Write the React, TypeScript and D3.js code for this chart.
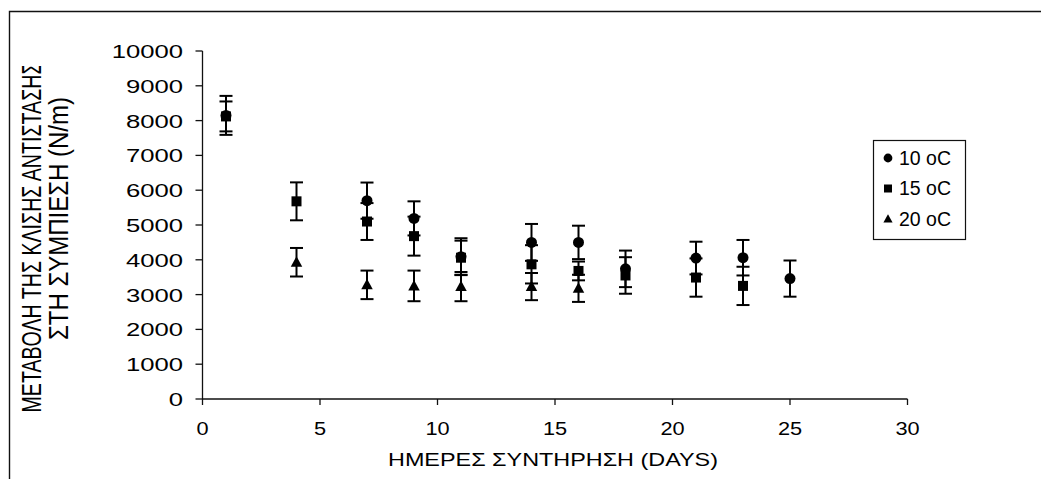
import React from "react";
import * as d3 from "d3";

const xTicks = [0, 5, 10, 15, 20, 25, 30];
const yTicks = [0, 1000, 2000, 3000, 4000, 5000, 6000, 7000, 8000, 9000, 10000];

const days10 = [1, 7, 9, 11, 14, 16, 18, 21, 23, 25];
const vals10 = [8150, 5700, 5190, 4090, 4500, 4500, 3740, 4050, 4060, 3460];
const err10 = [560, 520, 490, 530, 530, 480, 525, 470, 510, 520];

const days15 = [1, 4, 7, 9, 11, 14, 16, 18, 21, 23];
const vals15 = [8120, 5680, 5100, 4680, 4060, 3870, 3680, 3550, 3490, 3250];
const err15 = [430, 545, 530, 560, 490, 550, 270, 525, 550, 550];

const days20 = [4, 7, 9, 11, 14, 16];
const vals20 = [3930, 3280, 3250, 3230, 3230, 3180];
const err20 = [410, 410, 440, 420, 390, 390];

const seriesNames = ["10 oC", "15 oC", "20 oC"];
const shapes = ["circle", "square", "triangle"];

const yTitle1 = "ΜΕΤΑΒΟΛΗ ΤΗΣ ΚΛΙΣΗΣ ΑΝΤΙΣΤΑΣΗΣ";
const yTitle2 = "ΣΤΗ ΣΥΜΠΙΕΣΗ (N/m)";
const xTitle = "ΗΜΕΡΕΣ ΣΥΝΤΗΡΗΣΗ (DAYS)";

const FONT = "'Liberation Sans', Arial, sans-serif";

function Marker({ shape, cx, cy, s }: { shape: string; cx: number; cy: number; s: number }) {
  if (shape === "circle") return <circle cx={cx} cy={cy} r={s * 0.55} fill="#000" />;
  if (shape === "square")
    return <rect x={cx - s / 2} y={cy - s / 2} width={s} height={s} fill="#000" />;
  const h = s * 1.0;
  const w = s * 1.15;
  return (
    <polygon
      points={`${cx},${cy - h * 0.6} ${cx + w / 2},${cy + h * 0.45} ${cx - w / 2},${cy + h * 0.45}`}
      fill="#000"
    />
  );
}

export default function App() {
  const x = d3.scaleLinear().domain([0, 30]).range([202.5, 907.5]);
  const y = d3.scaleLinear().domain([0, 10000]).range([399, 51]);

  const series = [
    { days: days10, vals: vals10, err: err10 },
    { days: days15, vals: vals15, err: err15 },
    { days: days20, vals: vals20, err: err20 },
  ];

  const cap = 6.5;

  return (
    <svg
      width={1041}
      height={479}
      style={{ position: "absolute", left: 0, top: 0, background: "#fff" }}
      fontFamily={FONT}
    >
      <defs>
        <clipPath id="ytclip">
          <rect x={0} y={66} width={120} height={413} />
        </clipPath>
      </defs>
      <rect x={0} y={0} width={1041} height={479} fill="#fff" />
      <path d="M9.5,479 V11.5 H1041" fill="none" stroke="#111" strokeWidth={1.4} />

      {/* axes */}
      <line x1={x(0)} x2={x(0)} y1={y(10000)} y2={y(0)} stroke="#111" strokeWidth={1.3} />
      <line x1={x(0)} x2={x(30)} y1={y(0)} y2={y(0)} stroke="#111" strokeWidth={1.3} />
      {yTicks.map((t) => (
        <g key={"yt" + t}>
          <line x1={x(0) - 7} x2={x(0)} y1={y(t)} y2={y(t)} stroke="#111" strokeWidth={1.3} />
          <text
            transform={`translate(183,${y(t) + 7}) scale(1.38,1)`}
            textAnchor="end"
            fontSize={18.6}
            fill="#000"
          >
            {t}
          </text>
        </g>
      ))}
      {xTicks.map((t) => (
        <g key={"xt" + t}>
          <line x1={x(t)} x2={x(t)} y1={y(0)} y2={y(0) + 6} stroke="#111" strokeWidth={1.3} />
          <text
            transform={`translate(${x(t)},435) scale(1.17,1)`}
            textAnchor="middle"
            fontSize={18.6}
            fill="#000"
          >
            {t}
          </text>
        </g>
      ))}

      {/* titles */}
      <text
        x={553}
        y={466}
        textAnchor="middle"
        fontSize={19}
        textLength={330}
        lengthAdjust="spacingAndGlyphs"
        fill="#000"
      >
        {xTitle}
      </text>
      <g clipPath="url(#ytclip)">
        <g transform="translate(41,237.5) scale(1.42,1) rotate(-90)">
          <text
            x={0}
            y={0}
            textAnchor="middle"
            fontSize={20}
            textLength={350}
            lengthAdjust="spacingAndGlyphs"
            fill="#000"
          >
            {yTitle1}
          </text>
        </g>
      </g>
      <g transform="translate(68,218.5) scale(1.42,1) rotate(-90)">
        <text
          x={0}
          y={0}
          textAnchor="middle"
          fontSize={20}
          textLength={243}
          lengthAdjust="spacingAndGlyphs"
          fill="#000"
        >
          {yTitle2}
        </text>
      </g>

      {/* data */}
      {series.map((s, si) => (
        <g key={"s" + si}>
          {s.days.map((d, i) => {
            const cx = x(d);
            const yt = y(s.vals[i] + s.err[i]);
            const yb = y(s.vals[i] - s.err[i]);
            return (
              <g key={"e" + i} stroke="#000" strokeWidth={2}>
                <line x1={cx} x2={cx} y1={yt} y2={yb} />
                <line x1={cx - cap} x2={cx + cap} y1={yt} y2={yt} />
                <line x1={cx - cap} x2={cx + cap} y1={yb} y2={yb} />
              </g>
            );
          })}
          {s.days.map((d, i) => (
            <Marker key={"m" + i} shape={shapes[si]} cx={x(d)} cy={y(s.vals[i])} s={10} />
          ))}
        </g>
      ))}

      {/* legend */}
      <rect x={873.5} y={140.5} width={92} height={99} fill="#fff" stroke="#111" strokeWidth={1.2} />
      {seriesNames.map((n, i) => (
        <g key={"l" + i}>
          <Marker shape={shapes[i]} cx={888} cy={158 + i * 30.5} s={8} />
          <text x={899} y={164.5 + i * 30.5} fontSize={19.5} fill="#000">
            {n}
          </text>
        </g>
      ))}
    </svg>
  );
}
